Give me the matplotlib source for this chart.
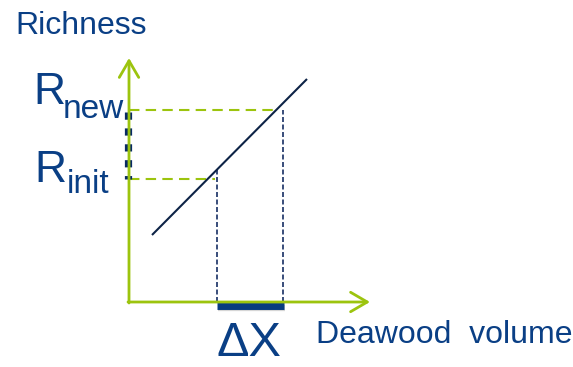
import matplotlib.pyplot as plt

# conceptual diagram values (origin = where the two axes meet)
x_axis_len = 241
y_axis_len = 244

line_x = [23, 178]
line_y = [67, 223]

x_init = 88
x_new = 154
r_init = 123
r_new = 192

# how far the guide lines reach
r_init_reach = 86
r_new_reach = 148
x_init_top = 132
x_new_top = 192

green = '#9cc40e'
navy = '#0d2346'
blue_txt = '#0a3f85'
bar_blue = '#073b80'


def main():
    fig = plt.figure(figsize=(5.73, 3.67), dpi=100)
    ax = fig.add_axes([0, 0, 1, 1])
    ax.set_xlim(-129, 444)
    ax.set_ylim(-65, 302)
    ax.axis('off')

    # axes with open arrow heads
    ax.annotate('', xy=(0, y_axis_len), xytext=(0, -1),
                arrowprops=dict(arrowstyle='->,head_length=1.2,head_width=0.7',
                                color=green, lw=2.0, shrinkA=0, shrinkB=0))
    ax.annotate('', xy=(x_axis_len, 0), xytext=(-1, 0),
                arrowprops=dict(arrowstyle='->,head_length=1.2,head_width=0.7',
                                color=green, lw=2.0, shrinkA=0, shrinkB=0))

    # green horizontal guides
    ax.plot([0, r_init_reach], [r_init, r_init], color=green, lw=1.5,
            dashes=(5, 3))
    ax.plot([0, r_new_reach], [r_new, r_new], color=green, lw=1.5,
            dashes=(5, 3))

    # navy vertical guides
    ax.plot([x_init, x_init], [0, x_init_top], color='#172f63', lw=1.2,
            dashes=(3, 1.5))
    ax.plot([x_new, x_new], [0, x_new_top], color='#172f63', lw=1.2,
            dashes=(3, 1.5))

    # relationship line
    ax.plot(line_x, line_y, color=navy, lw=1.5, solid_capstyle='butt')

    # delta R on the y axis
    ax.plot([-1, -1], [r_new - 2, r_init], color='#082a64', lw=5.2,
            dashes=(1.0, 1.2), solid_capstyle='butt', dash_capstyle='butt')

    # delta X on the x axis
    ax.plot([x_init + 1, x_new + 2], [-6, -6], color='#9a9a9a', lw=4.5,
            alpha=0.4, solid_capstyle='butt')
    ax.plot([x_init, x_new + 1], [-4, -4], color=bar_blue, lw=5.0,
            solid_capstyle='butt')

    font = 'Liberation Sans'
    ax.text(-114, 268, 'Richness', fontsize=23, color=blue_txt,
            family=font, ha='left', va='baseline')
    ax.text(-96, 302 - 104, 'R', fontsize=32, color=blue_txt,
            family=font, ha='left', va='baseline')
    ax.text(-66, 302 - 118, 'new', fontsize=24, color=blue_txt,
            family=font, ha='left', va='baseline')
    ax.text(-95, 302 - 182, 'R', fontsize=32, color=blue_txt,
            family=font, ha='left', va='baseline')
    ax.text(-62, 302 - 193, 'init', fontsize=24, color=blue_txt,
            family=font, ha='left', va='baseline')
    ax.text(87, -64, '\u0394X', fontsize=35, color=blue_txt,
            family=font, ha='left', va='bottom')
    ax.text(187, 302 - 343, 'Deawood  volume', fontsize=23, color=blue_txt,
            family=font, ha='left', va='baseline')

    fig.savefig('out.png', dpi=100)


if __name__ == "__main__":
    main()
